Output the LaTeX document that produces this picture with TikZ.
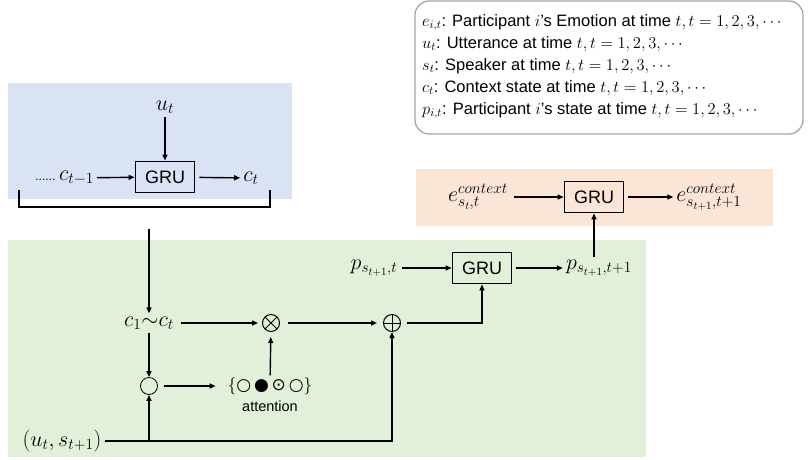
\RequirePackage{fix-cm}
\documentclass[tikz,border=0pt]{standalone}
\usepackage[no-math]{fontspec}
\setmainfont{Liberation Sans}
\newfontfamily\symfont{DejaVu Sans}
\usetikzlibrary{arrows.meta,calc}
\definecolor{bluebg}{RGB}{218,227,243}
\definecolor{orangebg}{RGB}{251,229,214}
\definecolor{greenbg}{RGB}{226,240,217}
\definecolor{legendgray}{RGB}{165,165,165}
\begin{document}
\begin{tikzpicture}[x=1pt,y=-1pt,
  arr/.style={line width=1.4pt,-{Triangle[length=6pt,width=5pt]}},
  ln/.style={line width=1.4pt},
  grubox/.style={draw,line width=1.8pt,minimum width=59pt,minimum height=31pt,inner sep=0pt,font=\fontsize{18}{18}\selectfont},
  mth/.style={inner sep=3pt,font=\fontsize{22}{22}\selectfont},
  opbase/.style={draw,circle,minimum size=17pt,inner sep=0pt,line width=1pt},
  opplus/.style={opbase,path picture={\draw[line width=1pt] (path picture bounding box.north) -- (path picture bounding box.south) (path picture bounding box.west) -- (path picture bounding box.east);}},
  optimes/.style={opbase,path picture={\draw[line width=1pt] (path picture bounding box.north west) -- (path picture bounding box.south east) (path picture bounding box.south west) -- (path picture bounding box.north east);}},
  leg/.style={anchor=base west,inner sep=0pt,font=\fontsize{16.5}{16.5}\selectfont}]
\useasboundingbox (0,0) rectangle (809,459);
% backgrounds
\fill[bluebg] (8,83) rectangle (292,199);
\fill[orangebg] (416,169) rectangle (773,226);
\fill[greenbg] (8,240) rectangle (646,457);
% legend
\draw[legendgray,line width=1.3pt,rounded corners=14pt] (415,1) rectangle (803,134);
\node[leg] (l1) at (422,26) {$e_{i,t}$: Participant $i$’s Emotion at time $t,t=1,2,3,\cdots$};
\node[leg] (l2) at (422,48) {$u_t$: Utterance at time $t,t=1,2,3,\cdots$};
\node[leg] (l3) at (422,70) {$s_t$: Speaker at time $t,t=1,2,3,\cdots$};
\node[leg] (l4) at (422,92) {$c_t$: Context state at time $t,t=1,2,3,\cdots$};
\node[leg] (l5) at (422,114) {$p_{i,t}$: Participant $i$’s state at time $t,t=1,2,3,\cdots$};
% blue block
\node[mth] (ut) at (165,107) {$u_t$};
\node[grubox] (gru1) at (165,177) {GRU};
\node[mth,anchor=east] (ctm1) at (97,178) {{\fontsize{12}{12}\selectfont......}\,$c_{t-1}$};
\node[mth] (ct) at (251,178) {$c_t$};
\draw[arr] (ut) -- (gru1);
\draw[arr] (ctm1) -- (gru1);
\draw[arr,shorten <=4pt] (gru1) -- (ct);
\draw[ln] (19,190) -- (19,207) -- (270,207) -- (270,190);
\coordinate (brk) at (149,229);
% green block
\node[mth] (cc) at (149,323) {$c_1{\sim}c_t$};
\node[optimes] (otimes) at (271,323) {};
\node[opplus] (oplus) at (392,323) {};
\node[draw,circle,line width=0.8pt,minimum size=17pt,inner sep=0pt] (circ) at (149,386) {};
\node[inner sep=2pt,font=\fontsize{17}{17}\selectfont] (att) at (270,386) {$\{${\symfont ○\,●\,⊙\,○}$\}$};
\node[inner sep=0pt,font=\fontsize{14.5}{14.5}\selectfont] (attl) at (270,406) {attention};
\node[mth] (us) at (62,441) {$(u_t,s_{t+1})$};
\draw[arr] (brk) -- (cc);
\draw[arr,shorten <=4pt,shorten >=4pt] (cc) -- (otimes);
\draw[arr,shorten <=8pt,shorten >=6pt] (otimes) -- (oplus);
\draw[arr] (cc) -- (circ);
\draw[arr,shorten <=6pt,shorten >=10pt] (circ) -- (att);
\draw[arr,shorten >=5pt] (att) -- (otimes);
\draw[arr] (us) -| (oplus);
\draw[arr] (circ |- us) -- (circ);
\node[mth] (p1) at (374,268) {$p_{s_{t+1},t}$};
\node[grubox] (gru2) at (482,268) {GRU};
\node[mth] (p2) at (599,268) {$p_{s_{t+1},t+1}$};
\draw[arr,shorten <=2pt] (p1) -- (gru2);
\draw[arr,shorten <=4pt] (gru2) -- (p2);
\draw[arr,shorten <=6pt] (oplus) -| (gru2);
% orange block
\node[mth] (e1) at (478,197) {$e^{context}_{s_t,t}$};
\node[grubox] (gru3) at (594,197) {GRU};
\node[mth] (e2) at (709,197) {$e^{context}_{s_{t+1},t+1}$};
\draw[arr,shorten <=3pt] (e1) -- (gru3);
\draw[arr,shorten <=4pt] (gru3) -- (e2);
\draw[arr] (gru3 |- p2.north) -- (gru3);
\end{tikzpicture}
\end{document}
